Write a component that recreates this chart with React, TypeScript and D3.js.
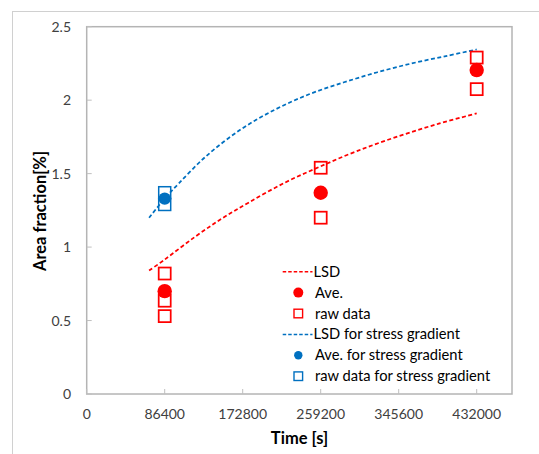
import React from "react";
import * as d3 from "d3";

const W = 539;
const H = 454;

// LSD fitted curve (red)
const lsdTime = [69120, 86400, 120000, 150000, 180000, 220000, 259200, 300000, 345600, 390000, 432000];
const lsdValue = [0.84, 0.915, 1.07, 1.195, 1.305, 1.44, 1.55, 1.655, 1.755, 1.84, 1.91];

// LSD for stress gradient curve (blue)
const lsdSgTime = [69120, 86400, 102300, 132600, 170500, 208400, 246300, 284200, 322100, 360000, 397900, 432000];
const lsdSgValue = [1.2, 1.33, 1.435, 1.62, 1.8, 1.935, 2.04, 2.12, 2.19, 2.25, 2.3, 2.345];

// Averages
const aveTime = [86400, 259200, 432000];
const aveValue = [0.70, 1.37, 2.205];

// Raw data
const rawTime = [86400, 86400, 86400, 259200, 259200, 432000, 432000];
const rawValue = [0.82, 0.635, 0.53, 1.54, 1.2, 2.29, 2.075];

// Stress gradient
const aveSgTime = [86400];
const aveSgValue = [1.33];
const rawSgTime = [86400, 86400];
const rawSgValue = [1.37, 1.29];

const xTicks = [0, 86400, 172800, 259200, 345600, 432000];
const yTicks = [0, 0.5, 1, 1.5, 2, 2.5];

const legendItems = [
  { label: "LSD", kind: "line", color: "#FF0000" },
  { label: "Ave.", kind: "circle", color: "#FF0000", r: 5 },
  { label: "raw data", kind: "square", color: "#FF0000" },
  { label: "LSD for stress gradient", kind: "line", color: "#0070C0" },
  { label: "Ave. for stress gradient", kind: "circle", color: "#0070C0", r: 4.2 },
  { label: "raw data for stress gradient", kind: "square", color: "#0070C0" },
];

const FONT = "Lato, 'Open Sans', sans-serif";
const RED = "#FF0000";
const BLUE = "#0070C0";

export default function App() {
  const left = 86.7;
  const right = 512;
  const top = 26.7;
  const bottom = 394;
  const x = d3.scaleLinear().domain([0, 432000]).range([left, 476.7]);
  const y = d3.scaleLinear().domain([0, 2.5]).range([bottom, top]);

  const line = d3
    .line<[number, number]>()
    .x((d) => x(d[0]))
    .y((d) => y(d[1]))
    .curve(d3.curveCatmullRom.alpha(0.5));

  const redPath = line(lsdTime.map((t, i) => [t, lsdValue[i]]) as [number, number][]) || "";
  const bluePath = line(lsdSgTime.map((t, i) => [t, lsdSgValue[i]]) as [number, number][]) || "";

  const sq = 12;
  const legX = 298.3;
  const legY0 = 271.7;
  const legDy = 20.9;

  return (
    <svg width={W} height={H} style={{ position: "absolute", left: 0, top: 0, display: "block" }} fontFamily={FONT}>
      <rect x={0} y={0} width={W} height={H} fill="#fff" />
      {/* outer chart frame */}
      <rect x={12.5} y={11.5} width={W} height={H} fill="none" stroke="#d0d0d0" strokeWidth={1} />
      {/* plot area */}
      <rect x={left} y={top} width={right - left} height={bottom - top} fill="none" stroke="#b4b4b4" strokeWidth={1.5} />

      {/* ticks */}
      {xTicks.map((t) => (
        <g key={"xt" + t}>
          <line x1={x(t)} x2={x(t)} y1={bottom} y2={bottom - 5} stroke="#bfbfbf" strokeWidth={1} />
          <text x={x(t)} y={418.5} textAnchor="middle" fontSize={14} fill="#404040">
            {t}
          </text>
        </g>
      ))}
      {yTicks.map((t) => (
        <g key={"yt" + t}>
          <line x1={left} x2={left + 5} y1={y(t)} y2={y(t)} stroke="#bfbfbf" strokeWidth={1} />
          <text x={71} y={y(t) + 5} textAnchor="end" fontSize={14} fill="#404040">
            {t}
          </text>
        </g>
      ))}

      {/* axis titles */}
      <text x={299.5} y={443.5} textAnchor="middle" fontSize={16.5} fontWeight="bold" fill="#000">
        Time [s]
      </text>
      <text
        transform={`translate(46,211) rotate(-90)`}
        textAnchor="middle"
        fontSize={16.5}
        fontWeight="bold"
        fill="#000"
      >
        Area fraction[%]
      </text>

      {/* curves */}
      <path d={bluePath} fill="none" stroke={BLUE} strokeWidth={1.75} strokeDasharray="4,2.5" />
      <path d={redPath} fill="none" stroke={RED} strokeWidth={1.75} strokeDasharray="4,2.5" />

      {/* averages */}
      {aveTime.map((t, i) => (
        <circle key={"a" + i} cx={x(t)} cy={y(aveValue[i])} r={7.2} fill={RED} />
      ))}
      {rawTime.map((t, i) => (
        <rect
          key={"r" + i}
          x={x(t) - sq / 2}
          y={y(rawValue[i]) - sq / 2}
          width={sq}
          height={sq}
          fill="none"
          stroke={RED}
          strokeWidth={1.75}
        />
      ))}
      {aveSgTime.map((t, i) => (
        <circle key={"as" + i} cx={x(t)} cy={y(aveSgValue[i])} r={6.2} fill={BLUE} />
      ))}
      {rawSgTime.map((t, i) => (
        <rect
          key={"rs" + i}
          x={x(t) - sq / 2}
          y={y(rawSgValue[i]) - sq / 2}
          width={sq}
          height={sq}
          fill="none"
          stroke={BLUE}
          strokeWidth={1.5}
        />
      ))}

      {/* legend */}
      {legendItems.map((it, i) => {
        const cy = legY0 + i * legDy;
        return (
          <g key={"l" + i}>
            {it.kind === "line" && (
              <line x1={282.7} x2={312.5} y1={cy} y2={cy} stroke={it.color} strokeWidth={1.5} strokeDasharray="3.5,2" />
            )}
            {it.kind === "circle" && <circle cx={legX} cy={cy} r={it.r} fill={it.color} />}
            {it.kind === "square" && (
              <rect x={legX - 4.3} y={cy - 4.3} width={8.6} height={8.6} fill="#fff" stroke={it.color} strokeWidth={1.4} />
            )}
            <text x={it.kind === "line" ? 313.5 : 315} y={cy + 5} fontSize={14.7} fill="#000">
              {it.label}
            </text>
          </g>
        );
      })}
    </svg>
  );
}
